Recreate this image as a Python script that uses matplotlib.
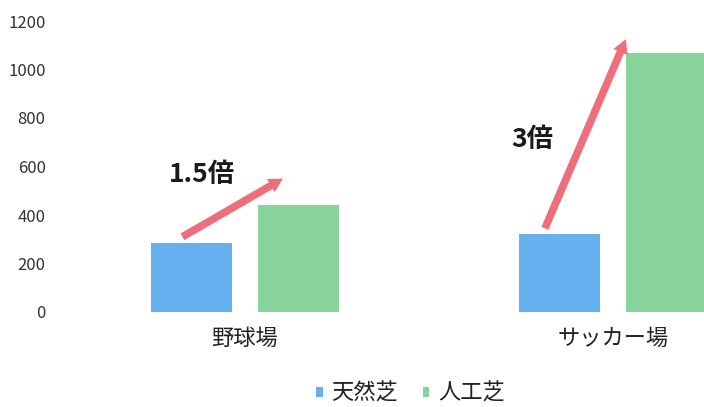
import numpy as np
import matplotlib.pyplot as plt

plt.rcParams['font.family'] = ['Noto Sans CJK JP', 'DejaVu Sans']

# DATOS
categorias = ["野球場", "サッカー場"]
series = ["天然芝", "人工芝"]
natural = [285, 320]
artificial = [440, 1070]
ratios = ["1.5倍", "3倍"]
colores = ["#66B0F0", "#88D49B"]
color_flecha = "#EE6E7C"

fig = plt.figure(figsize=(7.04, 4.07), dpi=100)
# eje más ancho que la figura: la segunda barra verde queda recortada
ax = fig.add_axes([61 / 704, 95 / 407, 736 / 704, 291 / 407])

x = np.arange(len(categorias))
ancho = 0.22
ax.bar(x - 0.145, natural, ancho, color=colores[0], label=series[0])
ax.bar(x + 0.145, artificial, ancho, color=colores[1], label=series[1])

ax.set_xlim(-0.5, 1.5)
ax.set_ylim(0, 1200)
ax.set_yticks(np.arange(0, 1201, 200))
ax.set_xticks(x)
ax.set_xticklabels(categorias, fontsize=16)
ax.tick_params(axis="y", length=0, pad=11, labelsize=12, labelcolor="#333333")
ax.tick_params(axis="x", length=0, pad=11, labelcolor="#222222")
for s in ax.spines.values():
    s.set_visible(False)

# flechas de incremento
inicio = [(-0.17, natural[0] + 25), (0.815, natural[1] + 25)]
fin = [(0.103, artificial[0] + 110), (1.035, artificial[1] + 55)]
for (x0, y0), (x1, y1) in zip(inicio, fin):
    ax.annotate("", xy=(x1, y1), xytext=(x0, y0),
                arrowprops=dict(arrowstyle="simple,head_length=1.0,head_width=1.1,tail_width=0.55",
                                mutation_scale=10, lw=0, color=color_flecha,
                                shrinkA=0, shrinkB=0),
                annotation_clip=False)

pos_texto = [(-0.117, 565), (0.78, 710)]
for (tx, ty), r in zip(pos_texto, ratios):
    ax.text(tx, ty, r, fontsize=19, fontweight="bold", ha="center", va="center",
            color="#1a1a1a")

fig.legend(loc="center", bbox_to_anchor=(0.583, 0.034), ncol=2, frameon=False,
           fontsize=16, handlelength=0.3, handleheight=0.3, handletextpad=0.4,
           columnspacing=1.1, labelcolor="#222222")

fig.savefig("out.png", dpi=100)
